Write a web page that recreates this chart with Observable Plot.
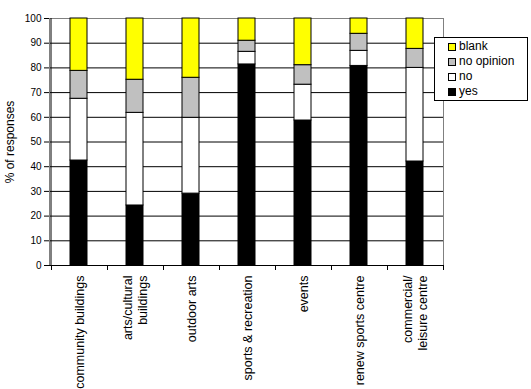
<!DOCTYPE html>
<html>
<head>
<meta charset="utf-8">
<script src="https://cdn.jsdelivr.net/npm/d3@7"></script>
<script src="https://cdn.jsdelivr.net/npm/@observablehq/plot@0.6"></script>
<style>
  body { margin: 0; background: white; }
  #wrap { position: relative; width: 531px; height: 389px; font-family: Arial, "Liberation Sans", sans-serif; }
  #legend { position: absolute; left: 434px; top: 37px; width: 94px; height: 64px; box-sizing: border-box;
            border: 1px solid black; background: white; font-size: 12px; padding-top: 1px; }
  .item { height: 15px; line-height: 15px; display: flex; align-items: center; padding-left: 13px; }
  .sw { width: 8px; height: 8px; box-sizing: border-box; border: 1px solid black; margin-right: 3px; }
</style>
</head>
<body>
<div id="wrap"><div id="legend"></div></div>
<script>
const categories = ["community buildings", "arts/cultural\nbuildings", "outdoor arts", "sports & recreation", "events", "renew sports centre", "commercial/\nleisure centre"];
const yes = [42.5, 24.3, 29.1, 81.4, 58.7, 80.8, 42.1];
const no = [25.0, 37.5, 30.7, 5.1, 14.5, 6.1, 37.9];
const noOpinion = [11.3, 13.4, 16.2, 4.5, 7.9, 6.9, 7.7];
const blank = [21.2, 24.8, 24.0, 9.0, 18.9, 6.2, 12.3];
const seriesNames = ["yes", "no", "no opinion", "blank"];
const seriesColors = ["#000000", "#ffffff", "#c0c0c0", "#ffff00"];
const yTicks = [0, 10, 20, 30, 40, 50, 60, 70, 80, 90, 100];

const seriesValues = [yes, no, noOpinion, blank];
const data = [];
categories.forEach((c, i) => {
  seriesNames.forEach((s, j) => data.push({category: c, series: s, value: seriesValues[j][i]}));
});

const chart = Plot.plot({
  width: 531,
  height: 389,
  marginLeft: 49,
  marginRight: 88,
  marginTop: 18,
  marginBottom: 124,
  style: {fontFamily: "Arial, 'Liberation Sans', sans-serif", fontSize: "12px", background: "white", color: "black"},
  x: {domain: categories, paddingInner: 0.7, paddingOuter: 0.35, label: null},
  y: {domain: [0, 100], label: null},
  color: {domain: seriesNames, range: seriesColors},
  marks: [
    Plot.gridY(yTicks, {stroke: "black", strokeOpacity: 1}),
    Plot.frame({stroke: "#808080"}),
    Plot.barY(data, {x: "category", y: "value", fill: "series", stroke: "black", strokeWidth: 1, order: seriesNames}),
    Plot.ruleY([0], {stroke: "black"}),
    Plot.axisY({ticks: yTicks, tickSize: 5, tickPadding: 3, fontSize: 10, label: null}),
    Plot.axisY({ticks: [], tickSize: 0, fontSize: 12, label: "% of responses", labelAnchor: "center", labelOffset: 44, labelArrow: "none"}),
    Plot.axisX({tickSize: 0, tickRotate: -90, tickPadding: 10, label: null, fontSize: 12.5, lineHeight: 1.2})
  ]
});

// left axis line and category boundary ticks from the scales
const xs = chart.scale("x");
const ys = chart.scale("y");
const svg = d3.select(chart);
const y0 = ys.apply(0), y1 = ys.apply(100);
const gap = (xs.step - xs.bandwidth) / 2;
const bounds = categories.map(c => xs.apply(c) - gap);
bounds.push(bounds[bounds.length - 1] + xs.step);
const g = svg.append("g").attr("stroke", "black").attr("stroke-width", 1);
g.append("line").attr("x1", bounds[0] + 0.5).attr("x2", bounds[0] + 0.5).attr("y1", y1).attr("y2", y0 + 0.5);
bounds.forEach(b => {
  const bx = Math.round(b) + 0.5;
  g.append("line").attr("x1", bx).attr("x2", bx).attr("y1", y0).attr("y2", y0 + 5);
});

document.getElementById("wrap").prepend(chart);

const legend = d3.select("#legend");
seriesNames.slice().reverse().forEach(s => {
  const it = legend.append("div").attr("class", "item");
  it.append("div").attr("class", "sw").style("background", seriesColors[seriesNames.indexOf(s)]);
  it.append("span").text(s);
});
</script>
</body>
</html>
